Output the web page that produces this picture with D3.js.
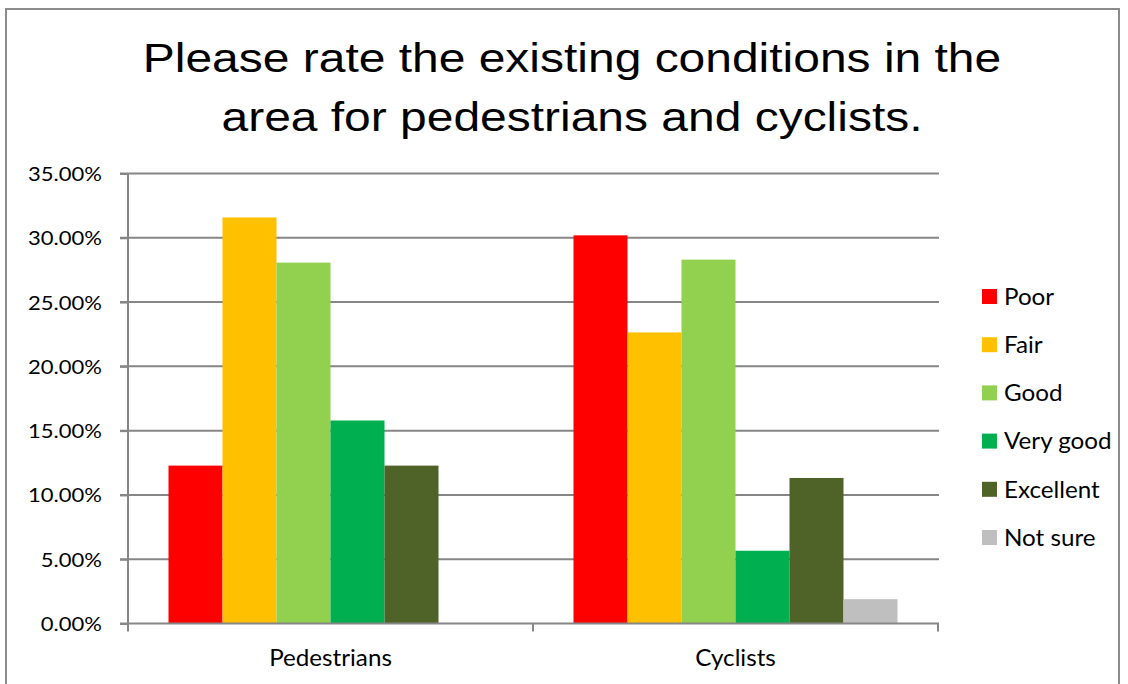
<!DOCTYPE html>
<html>
<head>
<meta charset="utf-8">
<script src="https://cdn.jsdelivr.net/npm/d3@7"></script>
<style>
  html, body { margin: 0; padding: 0; background: #fff; }
  svg { display: block; }
</style>
</head>
<body>
<svg id="chart" width="1128" height="684"></svg>
<script>
const categories = ["Pedestrians", "Cyclists"];
const seriesNames = ["Poor", "Fair", "Good", "Very good", "Excellent", "Not sure"];
const seriesColors = ["#FF0000", "#FFC000", "#92D050", "#00B050", "#4F6228", "#BFBFBF"];
const pedestrians = [12.28, 31.58, 28.07, 15.79, 12.28, 0];
const cyclists = [30.19, 22.64, 28.30, 5.66, 11.32, 1.89];
const yTicks = [0, 5, 10, 15, 20, 25, 30, 35];
const titleLines = ["Please rate the existing conditions in the", "area for pedestrians and cyclists."];

const values = [pedestrians, cyclists];
const svg = d3.select("#chart");
const plot = { left: 128, right: 938, top: 173.5, bottom: 623.5 };
const axisColor = "#868686";
const labelFont = "Lato, 'Open Sans', sans-serif";

// outer frame
svg.append("rect").attr("x", 6).attr("y", 9).attr("width", 1113).attr("height", 690)
  .attr("fill", "none").attr("stroke", "#8c8c8c").attr("stroke-width", 2);

// title (horizontally stretched like the reference)
const titleScale = 1.17;
const titleCx = 572;
svg.append("text")
  .attr("transform", `translate(${titleCx},0) scale(${titleScale},1)`)
  .attr("text-anchor", "middle")
  .attr("font-family", "'Liberation Sans', Arial, sans-serif")
  .attr("font-size", 41).attr("fill", "#000")
  .selectAll("tspan").data(titleLines).join("tspan")
  .attr("x", 0).attr("y", (d, i) => i === 0 ? 72.5 : 131).text(d => d);

const y = d3.scaleLinear().domain([0, 35]).range([plot.bottom, plot.top]);
const x0 = d3.scaleBand().domain(categories).range([plot.left, plot.right]).paddingInner(0).paddingOuter(0);
const groupPad = x0.bandwidth() * 0.1;
const x1 = d3.scaleBand().domain(seriesNames).range([groupPad, x0.bandwidth() - groupPad]).paddingInner(0).paddingOuter(0);

// gridlines
svg.append("g").selectAll("line").data(yTicks.filter(d => d > 0)).join("line")
  .attr("x1", plot.left - 8).attr("x2", plot.right + 1)
  .attr("y1", d => y(d)).attr("y2", d => y(d))
  .attr("stroke", axisColor).attr("stroke-width", 2);

// bars
const groups = svg.append("g").selectAll("g").data(categories).join("g")
  .attr("transform", d => `translate(${x0(d)},0)`);
groups.selectAll("rect").data((c, ci) => seriesNames.map((s, si) => ({ s, si, v: values[ci][si] })))
  .join("rect")
  .attr("x", d => x1(d.s)).attr("width", x1.bandwidth())
  .attr("y", d => y(d.v)).attr("height", d => y(0) - y(d.v))
  .attr("fill", d => seriesColors[d.si]);

// y axis
const tickScale = 1.13;
const yAxis = d3.axisLeft(y).tickValues(yTicks).tickSize(8).tickPadding(0)
  .tickFormat(d => d.toFixed(2) + "%");
const gy = svg.append("g").attr("transform", `translate(${plot.left},0)`).call(yAxis);
gy.select(".domain").attr("stroke", axisColor).attr("stroke-width", 2)
  .attr("d", `M0,${plot.top}V${plot.bottom + 7}`);
gy.selectAll(".tick line").attr("stroke", axisColor).attr("stroke-width", 2);
gy.selectAll(".tick text").attr("font-family", labelFont).attr("font-size", 19.5).attr("fill", "#000")
  .attr("x", -26 / tickScale).attr("dy", "0.36em")
  .attr("transform", `scale(${tickScale},1)`);

// x axis
const gx = svg.append("g").attr("transform", `translate(0,${plot.bottom})`);
gx.append("line").attr("x1", plot.left - 8).attr("x2", plot.right + 1).attr("y1", 0).attr("y2", 0)
  .attr("stroke", axisColor).attr("stroke-width", 2);
const boundaries = [plot.left, ...categories.map(c => x0(c) + x0.bandwidth())];
gx.selectAll(".xt").data(boundaries).join("line").attr("class", "xt")
  .attr("x1", d => d).attr("x2", d => d).attr("y1", 0).attr("y2", 8)
  .attr("stroke", axisColor).attr("stroke-width", 2);
const labScale = 1.03;
gx.selectAll(".xl").data(categories).join("text").attr("class", "xl")
  .attr("transform", d => `translate(${x0(d) + x0.bandwidth() / 2},42) scale(${labScale},1)`)
  .attr("text-anchor", "middle").attr("font-family", labelFont).attr("font-size", 23.5)
  .attr("fill", "#000").text(d => d);

// legend
const legend = svg.append("g").selectAll("g").data(seriesNames).join("g")
  .attr("transform", (d, i) => `translate(982,${289 + i * 48.2})`);
legend.append("rect").attr("width", 15).attr("height", 15).attr("fill", (d, i) => seriesColors[i]);
legend.append("text").attr("transform", `translate(22,7.5) scale(${labScale},1)`).attr("dy", "0.35em")
  .attr("font-family", labelFont).attr("font-size", 23.5).attr("fill", "#000").text(d => d);
</script>
</body>
</html>
